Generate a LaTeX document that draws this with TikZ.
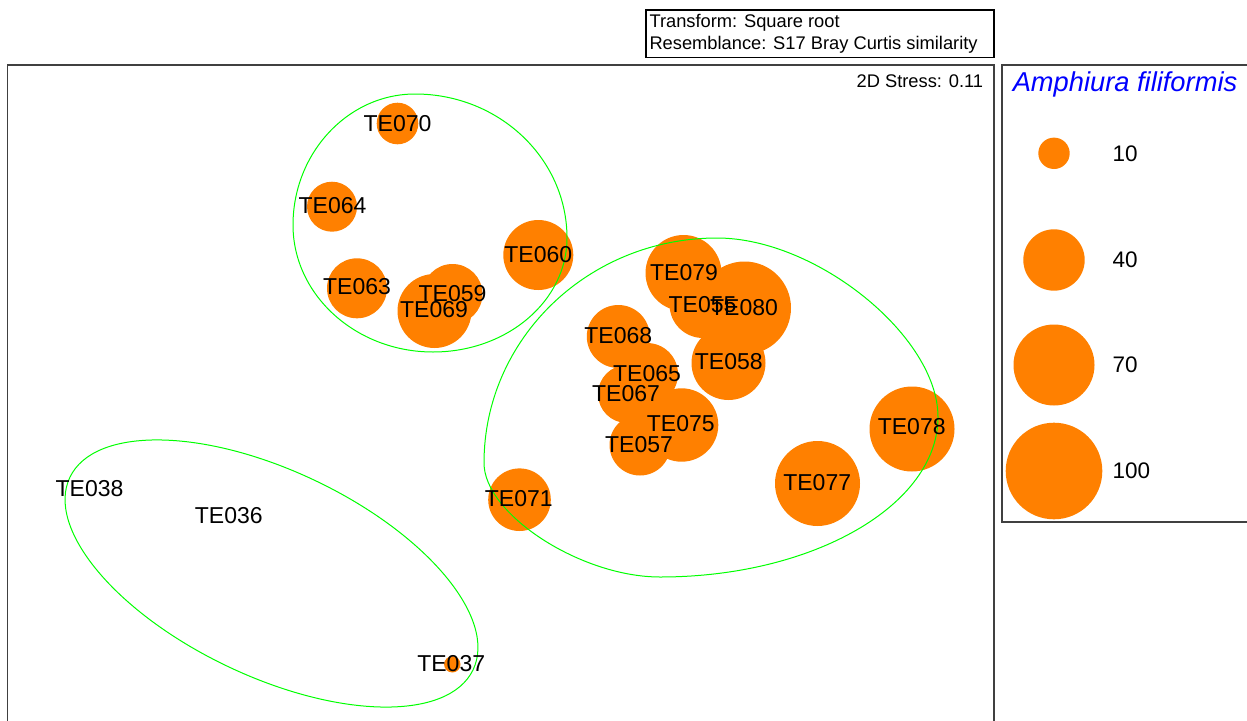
\documentclass[tikz,border=0pt]{standalone}
\usepackage{fontspec}
\setmainfont{Liberation Sans}
\definecolor{dotc}{HTML}{FF8000}
\definecolor{grp}{HTML}{00FF00}
\definecolor{frm}{HTML}{404040}
\definecolor{ttl}{HTML}{0000FF}
\tikzset{
  dot/.style={fill=dotc, draw=none},
  lbl/.style={inner sep=0pt, font=\fontsize{23}{27}\selectfont, text=black},
  leglbl/.style={inner sep=0pt, anchor=west, font=\fontsize{22.5}{27}\selectfont, text=black},
  grpline/.style={draw=grp, line width=1pt},
  frame/.style={draw=frm, line width=1.2pt},
  smalltxt/.style={inner sep=0pt, font=\fontsize{18.3}{22}\selectfont, text=black},
}
\begin{document}
\begin{tikzpicture}[x=1pt,y=-1pt]
\useasboundingbox (0,0) rectangle (1247,720);
% sample bubbles
\foreach \n/\x/\y/\r in {060/538.3/255/35, 079/683.5/273/38, 055/703/304.5/33.5,
  080/744.5/308/46.5, 058/728.5/363/37, 068/618.3/336.5/31.5, 065/647/374/31,
  067/627/394/29, 075/681.6/425/36.7, 057/640/445/30.5, 071/519.5/499.7/31.3,
  077/817.5/483.5/42.5, 078/912/429/42.5, 070/397.5/123.5/20.8, 064/332/206.7/25,
  063/357/288.3/30, 059/452.5/294/30, 069/434.5/311/37, 037/452.3/664.3/8.2}
  {\node[dot, circle, inner sep=0pt, minimum size=2*\r pt] (b\n) at (\x,\y) {};}
% group outlines
\draw[grpline] (415,94) .. controls (499,94) and (567,158.5) .. (567,238)
  .. controls (567,301) and (507,352) .. (433,352)
  .. controls (356,352) and (293,295) .. (293,225)
  .. controls (293,153) and (348,94) .. (415,94) -- cycle;
\draw[grpline] (717,238) .. controls (816.5,238) and (938,336.5) .. (938,417)
  .. controls (938,505) and (813.5,577) .. (660,577)
  .. controls (581,577) and (484,514.3) .. (484,463)
  .. controls (484,338.8) and (588.4,238) .. (717,238) -- cycle;
\draw[grpline, rotate around={-25.5:(271.5,573.5)}] (271.5,573.5)
  ellipse [x radius=223.4pt, y radius=102.7pt];
% labels
\foreach \n/\x/\y in {060/538.3/255, 079/684/273, 055/702.5/304.7, 080/744/307.7,
  058/728.8/362, 068/618.3/336, 065/647/373.7, 067/626/393.7, 075/680.8/423.7,
  057/639/444.5, 071/518.8/498.8, 077/817.2/482.5, 078/911.7/427, 070/397.5/123.3,
  064/332.5/206, 063/357/287, 059/452.5/293.3, 069/434/310, 038/89.5/488.3,
  036/228.8/515.3, 037/451.2/663.7}
  {\node[lbl] (l\n) at (\x,\y) {TE\n};}
% plot frame
\draw[frame] (7.5,725) -- (7.5,65) -- (994,65) -- (994,725);
\node[smalltxt, anchor=base east] (stress) at (983.3,87.3) {2D Stress: 0.11};
% info box
\draw[frame, draw=black] (646,10) rectangle (994,57.7);
\node[smalltxt, anchor=base west] (tr) at (649.3,27.3) {Transform: Square root};
\node[smalltxt, anchor=base west] (rs) at (649.3,49.3) {Resemblance: S17 Bray Curtis similarity};
% legend
\draw[frame] (1252,65) -- (1002,65) -- (1002,522) -- (1252,522);
\node[inner sep=0pt, anchor=base, text=ttl, font=\fontsize{27.3}{32}\selectfont\itshape] (title) at (1125,91) {Amphiura filiformis};
\foreach \v/\y/\r in {10/153.3/15.7, 40/260/30.7, 70/365/40.5, 100/471/48.3}
  {\node[dot, circle, inner sep=0pt, minimum size=2*\r pt] (k\v) at (1054,\y) {};
   \node[leglbl] (t\v) at (1112.3,\y) {\v};}
\end{tikzpicture}
\end{document}
